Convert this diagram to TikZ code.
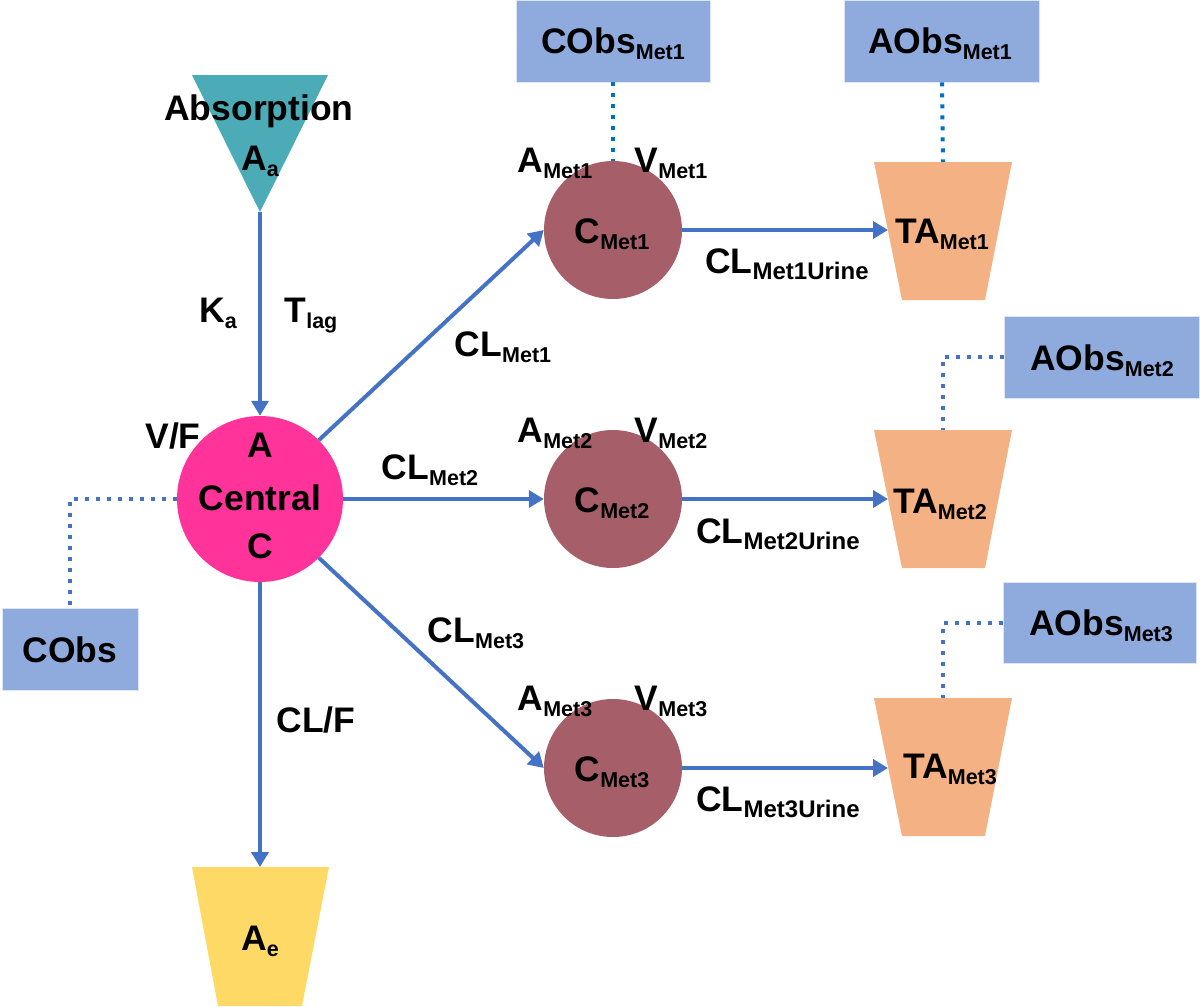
\documentclass[tikz,border=0pt]{standalone}
\usepackage{fontspec}
\setmainfont{Liberation Sans}
\usetikzlibrary{arrows.meta}
\definecolor{arrowblue}{HTML}{4472C4}
\definecolor{dotblue}{HTML}{0070C0}
\definecolor{boxblue}{HTML}{8FAADC}
\definecolor{abscol}{HTML}{4BACB8}
\definecolor{pinkc}{HTML}{FF3399}
\definecolor{metc}{HTML}{A65E68}
\definecolor{tac}{HTML}{F4B183}
\definecolor{aec}{HTML}{FFD966}
\newcommand{\sbs}[1]{\raisebox{-6pt}{\fontsize{21.5}{21.5}\selectfont #1}}
\newcommand{\sbu}[1]{\raisebox{-6pt}{\fontsize{24}{24}\selectfont #1}}
\begin{document}
\begin{tikzpicture}[x=1pt,y=-1pt,
  lbl/.style={font=\fontsize{35.5}{40}\selectfont\bfseries, inner sep=0pt, anchor=base},
  flow/.style={draw=arrowblue, line width=4pt, -{Triangle[length=15pt,width=17pt]}},
  obsline/.style={draw=arrowblue, line width=4pt, dash pattern=on 4pt off 7pt},
  obsbox/.style={fill=boxblue, draw=white!70!boxblue, line width=0.8pt, inner sep=0pt},
  metcirc/.style={circle, fill=metc, minimum size=138pt, inner sep=0pt},
  ]
\useasboundingbox (0,0) rectangle (1200,1007);

% shapes
\fill[abscol] (192,75) -- (328,75) -- (260,212) -- cycle;
\coordinate (absapex) at (260,212);
\node[circle, fill=pinkc, minimum size=166pt, inner sep=0pt] (central) at (260,499) {};
\fill[aec] (192,867) -- (329,867) -- (302,1006) -- (218,1006) -- cycle;
\coordinate (aetop) at (260,867);

\node[metcirc] (cm1) at (613,230) {};
\node[metcirc] (cm2) at (613,499) {};
\node[metcirc] (cm3) at (613,768) {};

\fill[tac] (874,162) -- (1012,162) -- (985,300) -- (902,300) -- cycle;
\fill[tac] (874,430) -- (1012,430) -- (985,568) -- (902,568) -- cycle;
\fill[tac] (874,698) -- (1012,698) -- (985,836) -- (902,836) -- cycle;
\coordinate (ta1w) at (888,230);
\coordinate (ta2w) at (888,499);
\coordinate (ta3w) at (888,768);
\coordinate (ta1n) at (943,162);
\coordinate (ta2n) at (943,430);
\coordinate (ta3n) at (943,698);

\node[obsbox, minimum width=136pt, minimum height=82pt] (cobs) at (70,649) {};
\node[obsbox, minimum width=194pt, minimum height=82pt] (cobsm1) at (613,41) {};
\node[obsbox, minimum width=195pt, minimum height=82pt] (aobsm1) at (942,41) {};
\node[obsbox, minimum width=195pt, minimum height=82pt] (aobsm2) at (1102,357) {};
\node[obsbox, minimum width=193pt, minimum height=81pt] (aobsm3) at (1100,623) {};

% connectors
\draw[flow] (absapex) -- (central.north);
\draw[flow] (central.45) -- (cm1.west);
\draw[flow] (central.east) -- (cm2.west);
\draw[flow] (central.-45) -- (cm3.west);
\draw[flow] (central.south) -- (aetop);
\draw[flow] (cm1.east) -- (ta1w);
\draw[flow] (cm2.east) -- (ta2w);
\draw[flow] (cm3.east) -- (ta3w);

\draw[obsline, draw=dotblue] (cobsm1.south) -- (cm1.north);
\draw[obsline, draw=dotblue] (aobsm1.south) -- (ta1n);
\draw[obsline] (aobsm2.west) -| (ta2n);
\draw[obsline] (aobsm3.west) -| (ta3n);
\draw[obsline] (central.west) -| (cobs.north);

% labels
\node[lbl] (tabs) at (259,120) {Absorption};
\node[lbl] (taa) at (260,170) {A\sbs{a}};
\node[lbl] (tka) at (218,322) {K\sbs{a}};
\node[lbl] (ttlag) at (311,322) {T\sbs{lag}};
\node[lbl] (tvf) at (173,448) {V/F};
\node[lbl] (tA) at (260,457) {A};
\node[lbl] (tcen) at (260,510) {Central};
\node[lbl] (tC) at (260,558) {C};
\node[lbl] (tcobs) at (70,662) {CObs};
\node[lbl] (tclf) at (316,732) {CL/F};
\node[lbl] (tae) at (260,950) {A\sbs{e}};
\node[lbl] (tclm1) at (503,356) {CL\sbs{Met1}};
\node[lbl] (tclm2) at (430,479) {CL\sbs{Met2}};
\node[lbl] (tclm3) at (476,642) {CL\sbs{Met3}};

\node[lbl] (tcm1) at (612,243) {C\sbs{Met1}};
\node[lbl] (tam1) at (555,172) {A\sbs{Met1}};
\node[lbl] (tvm1) at (671,172) {V\sbs{Met1}};
\node[lbl] (tu1) at (787,273) {CL\sbu{Met1Urine}};
\node[lbl] (tta1) at (942,243) {TA\sbs{Met1}};

\node[lbl] (tcm2) at (612,512) {C\sbs{Met2}};
\node[lbl] (tam2) at (555,442) {A\sbs{Met2}};
\node[lbl] (tvm2) at (671,442) {V\sbs{Met2}};
\node[lbl] (tu2) at (778,543) {CL\sbu{Met2Urine}};
\node[lbl] (tta2) at (940,513) {TA\sbs{Met2}};

\node[lbl] (tcm3) at (612,781) {C\sbs{Met3}};
\node[lbl] (tam3) at (555,710) {A\sbs{Met3}};
\node[lbl] (tvm3) at (671,710) {V\sbs{Met3}};
\node[lbl] (tu3) at (778,811) {CL\sbu{Met3Urine}};
\node[lbl] (tta3) at (950,778) {TA\sbs{Met3}};

\node[lbl] (tcobsm1) at (613,53) {CObs\sbs{Met1}};
\node[lbl] (taobsm1) at (940,53) {AObs\sbs{Met1}};
\node[lbl] (taobsm2) at (1102,370) {AObs\sbs{Met2}};
\node[lbl] (taobsm3) at (1101,635) {AObs\sbs{Met3}};
\end{tikzpicture}
\end{document}
